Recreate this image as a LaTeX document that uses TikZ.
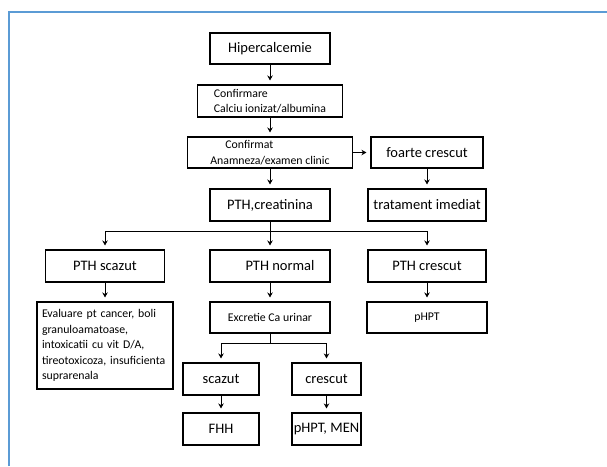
\documentclass[tikz,border=0pt]{standalone}
\usepackage{fontspec}
\setmainfont{Carlito}
\usetikzlibrary{arrows.meta}
\definecolor{framecol}{RGB}{91,155,213}

\begin{document}
\begin{tikzpicture}[x=1pt,y=-1pt,
    box/.style={draw,line width=1.1pt,inner sep=0pt},
    big/.style={font=\fontsize{14.5}{17}\selectfont},
    small/.style={font=\fontsize{11.8}{15.5}\selectfont},
    arr/.style={-{Stealth[length=5pt,width=5.5pt]},line width=0.9pt,shorten >=4pt}]
    \useasboundingbox (0,0) rectangle (607,466);
    \draw[framecol,line width=1.3pt] (9,466) -- (9,12) -- (607,12);

    \node[box,big,minimum width=120pt,minimum height=31pt] (hip) at (270,48.5) {Hipercalcemie};
    \node[box,small,align=left,minimum width=145pt,minimum height=32pt] (conf) at (270,101) {Confirmare\\Calciu ionizat/albumina};
    \node[box,small,align=left,minimum width=165pt,minimum height=31pt] (confd) at (270,152.5) {\hspace*{15pt}Confirmat\\Anamneza/examen clinic};
    \node[box,big,minimum width=112pt,minimum height=31pt] (foarte) at (427,152.5) {foarte crescut};
    \node[box,big,minimum width=120pt,minimum height=32pt] (pth) at (270,205) {PTH,creatinina};
    \node[box,big,minimum width=118pt,minimum height=32pt] (trat) at (427,205) {tratament imediat};

    \node[box,big,minimum width=119pt,minimum height=32pt] (ptha) at (105,266) {PTH scazut};
    \node[box,big,minimum width=120pt,minimum height=32pt] (pthn) at (270,266) {\hspace*{20pt}PTH normal};
    \node[box,big,minimum width=118pt,minimum height=32pt] (pthc) at (427,266) {PTH crescut};

    \node[box,small,align=left,text width=126pt,inner xsep=5pt,minimum height=87pt] (eval) at (105,345.5)
        {Evaluare pt cancer, boli\\granuloamatoase,\\intoxicatii cu vit D/A,\\tireotoxicoza, insuficienta\\suprarenala};
    \node[box,small,minimum width=120pt,minimum height=31pt] (exc) at (270,317.5) {Excretie Ca urinar};
    \node[box,small,minimum width=120pt,minimum height=31pt] (phpt) at (427,317.5) {pHPT};

    \node[box,big,minimum width=76pt,minimum height=32pt] (sca) at (221,379) {scazut};
    \node[box,big,minimum width=69pt,minimum height=32pt] (cre) at (326.5,379) {crescut};
    \node[box,big,minimum width=76pt,minimum height=32pt] (fhh) at (221,429) {FHH};
    \node[box,big,minimum width=69pt,minimum height=32pt] (men) at (326.5,429) {pHPT, MEN};

    \coordinate (s1) at (270,231);
    \coordinate (s2) at (270,343);

    \foreach \a/\b in {hip/conf,conf/confd,confd/pth,confd/foarte,foarte/trat,ptha/eval,pthn/exc,pthc/phpt,sca/fhh,cre/men}
    {
      \draw[arr] (\a) -- (\b);
    };
    \draw[line width=0.9pt] (pth) -- (s1);
    \draw[line width=0.9pt] (exc) -- (s2);
    \foreach \n in {ptha,pthn,pthc}
    {
      \draw[arr] (s1) -| (\n);
    };
    \foreach \n in {sca,cre}
    {
      \draw[arr] (s2) -| (\n);
    };
\end{tikzpicture}
\end{document}
